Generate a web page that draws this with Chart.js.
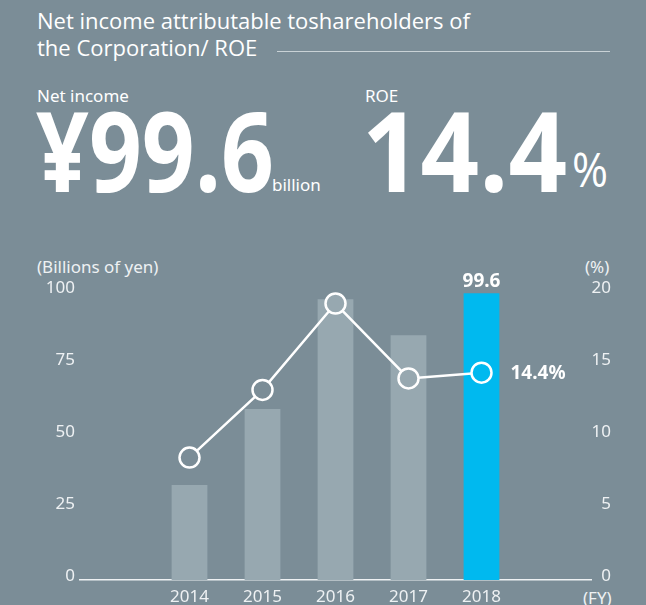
<!DOCTYPE html>
<html>
<head>
<meta charset="utf-8">
<script src="https://cdn.jsdelivr.net/npm/chart.js@4.4.0/dist/chart.umd.min.js"></script>
<style>
    html, body { margin: 0; padding: 0; }
    body {
        width: 646px; height: 605px; overflow: hidden; position: relative;
        background: #7b8d97; color: #ffffff;
        font-family: "Noto Sans", "Open Sans", sans-serif;
    }
    .abs { position: absolute; white-space: nowrap; }
    .title { left: 37px; top: 7px; font-size: 22px; line-height: 27px; font-family: "Open Sans", sans-serif; font-weight: 500; }
    .rule { left: 277px; top: 51px; width: 333px; height: 1px; background: #c9d2d6; }
    .label { font-size: 17px; line-height: 20px; }
    .big { font-family: "Open Sans", sans-serif; font-weight: 700; font-size: 112px; line-height: 112px; transform-origin: left top; }
    .unit { font-size: 17px; line-height: 20px; }
    .axisNote { font-size: 17px; line-height: 20px; color: #eef1f3; }
    #chartBox { position: absolute; left: 0; top: 250px; width: 646px; height: 355px; }
</style>
</head>
<body>
<div class="abs title">Net income attributable toshareholders of<br>the Corporation/ ROE</div>
<div class="abs rule"></div>

<div class="abs label" style="left:37px; top:86px;">Net income</div>
<div class="abs label" style="left:365px; top:86px;">ROE</div>

<div class="abs big" id="bigIncome" style="left:36px; top:93px;">¥99.6</div>
<div class="abs unit" style="left:272px; top:175px;">billion</div>
<div class="abs big" id="bigRoe" style="left:362px; top:93px;">14.4</div>
<div class="abs big" id="bigPct" style="left:572px; top:146px; font-size:47px; line-height:47px; font-weight:400;">%</div>

<div class="abs axisNote" style="left:37px; top:257px;">(Billions of yen)</div>
<div class="abs axisNote" style="left:585px; top:257px;">(%)</div>
<div class="abs axisNote" style="left:583px; top:588px;">(FY)</div>

<div id="chartBox"><canvas id="chart"></canvas></div>

<script>
const years = ['2014', '2015', '2016', '2017', '2018'];
const netIncome = [33.0, 59.4, 97.5, 85.0, 99.6];
const roe = [8.5, 13.2, 19.2, 14.0, 14.4];
const incomeTicks = [0, 25, 50, 75, 100];
const roeTicks = [0, 5, 10, 15, 20];

const bgColor = '#7b8d97';
const barGray = '#97a8b0';
const barBlue = '#00b9ef';
const textColor = '#eef1f3';
const tickFont = { size: 17, family: '"Noto Sans", sans-serif' };

// stretch the big numbers to the narrow look of the original
function squeeze(id, targetWidth) {
    const el = document.getElementById(id);
    const w = el.getBoundingClientRect().width;
    el.style.transform = 'scaleX(' + (targetWidth / w) + ')';
}
squeeze('bigIncome', 238);
squeeze('bigRoe', 205);
squeeze('bigPct', 36);

// empty slot either side of the years
const labels = [''].concat(years, ['']);
const barData = [null].concat(netIncome, [null]);
const lineData = [null].concat(roe, [null]);
const last = years.length;

const barColors = labels.map((l, i) => i === last ? barBlue : barGray);
const pointFill = lineData.map((v, i) => {
    if (i === last) return barBlue;
    if (v !== null && v * 5 < barData[i]) return barGray;
    return bgColor;
});

const valueLabels = {
    id: 'valueLabels',
    afterDatasetsDraw(chart) {
        const ctx = chart.ctx;
        const bar = chart.getDatasetMeta(1).data[last];
        const pt = chart.getDatasetMeta(0).data[last];
        ctx.save();
        ctx.fillStyle = '#ffffff';
        ctx.font = 'bold 19px "Noto Sans", sans-serif';
        ctx.textAlign = 'center';
        ctx.textBaseline = 'bottom';
        ctx.fillText(netIncome[last - 1].toFixed(1), bar.x, bar.y - 2);
        ctx.textAlign = 'left';
        ctx.textBaseline = 'middle';
        ctx.fillText(roe[last - 1].toFixed(1) + '%', pt.x + 29, pt.y + 1);
        ctx.restore();
    }
};

new Chart(document.getElementById('chart').getContext('2d'), {
    type: 'bar',
    data: {
        labels: labels,
        datasets: [{
            type: 'line',
            data: lineData,
            yAxisID: 'y1',
            order: 0,
            borderColor: '#ffffff',
            borderWidth: 2.5,
            pointRadius: 10,
            pointHoverRadius: 10,
            pointBorderWidth: 2.5,
            pointBorderColor: '#ffffff',
            pointBackgroundColor: pointFill,
            spanGaps: false
        }, {
            type: 'bar',
            data: barData,
            yAxisID: 'y',
            order: 1,
            backgroundColor: barColors,
            barPercentage: 0.49,
            categoryPercentage: 1.0
        }]
    },
    options: {
        responsive: true,
        maintainAspectRatio: false,
        animation: false,
        layout: { padding: { top: 42, left: 0, right: 35, bottom: 0 } },
        plugins: { legend: { display: false }, tooltip: { enabled: false } },
        scales: {
            x: {
                grid: { display: false, drawTicks: false },
                border: { display: true, color: '#eef1f3', width: 1.5 },
                ticks: { color: textColor, font: tickFont, padding: 7, maxRotation: 0 },
                afterFit: (s) => { s.height = 25; }
            },
            y: {
                position: 'left',
                min: 0, max: 100,
                afterBuildTicks: (s) => { s.ticks = incomeTicks.map(v => ({ value: v })); },
                grid: { display: false, drawTicks: false },
                border: { display: false },
                ticks: { color: textColor, font: tickFont, padding: 5, labelOffset: -4 },
                afterFit: (s) => { s.width = 80; }
            },
            y1: {
                position: 'right',
                min: 0, max: 20,
                afterBuildTicks: (s) => { s.ticks = roeTicks.map(v => ({ value: v })); },
                grid: { display: false, drawTicks: false },
                border: { display: false },
                ticks: { color: textColor, font: tickFont, padding: 2, crossAlign: 'far', labelOffset: -4 },
                afterFit: (s) => { s.width = 20; }
            }
        }
    },
    plugins: [valueLabels]
});
</script>
</body>
</html>
